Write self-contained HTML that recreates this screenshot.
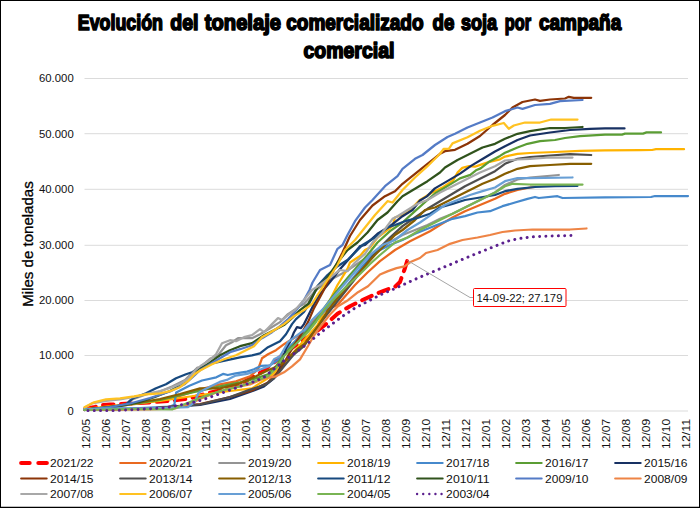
<!DOCTYPE html>
<html lang="es"><head><meta charset="utf-8">
<title>Evolución del tonelaje comercializado de soja por campaña comercial</title>
<style>
html,body{margin:0;padding:0;background:#fff;}
body{width:700px;height:508px;overflow:hidden;}
#chart{display:block;position:absolute;left:0;top:0;}
text{font-family:"Liberation Sans", Arial, Helvetica, sans-serif;}
</style></head><body>
<svg id="chart" width="700" height="508" viewBox="0 0 700 508">
<rect x="0" y="0" width="700" height="508" fill="#ffffff"/>
<g stroke="#DBDBDB" stroke-width="1">
<line x1="84.5" y1="411.00" x2="688" y2="411.00"/>
<line x1="84.5" y1="355.50" x2="688" y2="355.50"/>
<line x1="84.5" y1="300.50" x2="688" y2="300.50"/>
<line x1="84.5" y1="245.30" x2="688" y2="245.30"/>
<line x1="84.5" y1="189.30" x2="688" y2="189.30"/>
<line x1="84.5" y1="133.70" x2="688" y2="133.70"/>
<line x1="84.5" y1="78.50" x2="688" y2="78.50"/>
</g>
<g id="title">
<text y="29.6" font-size="22.4" font-weight="bold" fill="#000" stroke="#000" stroke-width="1.7" stroke-linejoin="round" xml:space="default">
<tspan x="77.80" textLength="85.20" lengthAdjust="spacingAndGlyphs">Evolución</tspan> <tspan x="170.20" textLength="28.25" lengthAdjust="spacingAndGlyphs">del</tspan> <tspan x="204.80" textLength="76.23" lengthAdjust="spacingAndGlyphs">tonelaje</tspan> <tspan x="286.20" textLength="137.42" lengthAdjust="spacingAndGlyphs">comercializado</tspan> <tspan x="432.60" textLength="21.83" lengthAdjust="spacingAndGlyphs">de</tspan> <tspan x="461.00" textLength="36.07" lengthAdjust="spacingAndGlyphs">soja</tspan> <tspan x="504.80" textLength="26.28" lengthAdjust="spacingAndGlyphs">por</tspan> <tspan x="539.00" textLength="82.23" lengthAdjust="spacingAndGlyphs">campaña</tspan>
</text>
<text y="57.6" font-size="22.4" font-weight="bold" fill="#000" stroke="#000" stroke-width="1.7" stroke-linejoin="round" xml:space="default">
<tspan x="303.40" textLength="91.01" lengthAdjust="spacingAndGlyphs">comercial</tspan>
</text>
</g>
<g font-size="11.2" fill="#111" text-anchor="end">
<text x="73.7" y="414.80">0</text>
<text x="73.7" y="359.30" textLength="34.7" lengthAdjust="spacingAndGlyphs">10.000</text>
<text x="73.7" y="304.30" textLength="34.7" lengthAdjust="spacingAndGlyphs">20.000</text>
<text x="73.7" y="249.10" textLength="34.7" lengthAdjust="spacingAndGlyphs">30.000</text>
<text x="73.7" y="193.10" textLength="34.7" lengthAdjust="spacingAndGlyphs">40.000</text>
<text x="73.7" y="137.50" textLength="34.7" lengthAdjust="spacingAndGlyphs">50.000</text>
<text x="73.7" y="82.30" textLength="34.7" lengthAdjust="spacingAndGlyphs">60.000</text>
</g>
<text transform="translate(32.9,244) rotate(-90)" text-anchor="middle" font-size="14" fill="#000" stroke="#000" stroke-width="0.3" textLength="125.5" lengthAdjust="spacingAndGlyphs">Miles de toneladas</text>
<g font-size="11.2" fill="#111" text-anchor="end">
<text transform="translate(89.50,418.8) rotate(-90)" textLength="30.2" lengthAdjust="spacingAndGlyphs">12/05</text>
<text transform="translate(109.53,418.8) rotate(-90)" textLength="30.2" lengthAdjust="spacingAndGlyphs">12/06</text>
<text transform="translate(129.56,418.8) rotate(-90)" textLength="30.2" lengthAdjust="spacingAndGlyphs">12/07</text>
<text transform="translate(149.59,418.8) rotate(-90)" textLength="30.2" lengthAdjust="spacingAndGlyphs">12/08</text>
<text transform="translate(169.62,418.8) rotate(-90)" textLength="30.2" lengthAdjust="spacingAndGlyphs">12/09</text>
<text transform="translate(189.65,418.8) rotate(-90)" textLength="30.2" lengthAdjust="spacingAndGlyphs">12/10</text>
<text transform="translate(209.68,418.8) rotate(-90)" textLength="30.2" lengthAdjust="spacingAndGlyphs">12/11</text>
<text transform="translate(229.71,418.8) rotate(-90)" textLength="30.2" lengthAdjust="spacingAndGlyphs">12/12</text>
<text transform="translate(249.74,418.8) rotate(-90)" textLength="30.2" lengthAdjust="spacingAndGlyphs">12/01</text>
<text transform="translate(269.77,418.8) rotate(-90)" textLength="30.2" lengthAdjust="spacingAndGlyphs">12/02</text>
<text transform="translate(289.80,418.8) rotate(-90)" textLength="30.2" lengthAdjust="spacingAndGlyphs">12/03</text>
<text transform="translate(309.83,418.8) rotate(-90)" textLength="30.2" lengthAdjust="spacingAndGlyphs">12/04</text>
<text transform="translate(329.86,418.8) rotate(-90)" textLength="30.2" lengthAdjust="spacingAndGlyphs">12/05</text>
<text transform="translate(349.89,418.8) rotate(-90)" textLength="30.2" lengthAdjust="spacingAndGlyphs">12/06</text>
<text transform="translate(369.92,418.8) rotate(-90)" textLength="30.2" lengthAdjust="spacingAndGlyphs">12/07</text>
<text transform="translate(389.95,418.8) rotate(-90)" textLength="30.2" lengthAdjust="spacingAndGlyphs">12/08</text>
<text transform="translate(409.98,418.8) rotate(-90)" textLength="30.2" lengthAdjust="spacingAndGlyphs">12/09</text>
<text transform="translate(430.01,418.8) rotate(-90)" textLength="30.2" lengthAdjust="spacingAndGlyphs">12/10</text>
<text transform="translate(450.04,418.8) rotate(-90)" textLength="30.2" lengthAdjust="spacingAndGlyphs">12/11</text>
<text transform="translate(470.07,418.8) rotate(-90)" textLength="30.2" lengthAdjust="spacingAndGlyphs">12/12</text>
<text transform="translate(490.10,418.8) rotate(-90)" textLength="30.2" lengthAdjust="spacingAndGlyphs">12/01</text>
<text transform="translate(510.13,418.8) rotate(-90)" textLength="30.2" lengthAdjust="spacingAndGlyphs">12/02</text>
<text transform="translate(530.16,418.8) rotate(-90)" textLength="30.2" lengthAdjust="spacingAndGlyphs">12/03</text>
<text transform="translate(550.19,418.8) rotate(-90)" textLength="30.2" lengthAdjust="spacingAndGlyphs">12/04</text>
<text transform="translate(570.22,418.8) rotate(-90)" textLength="30.2" lengthAdjust="spacingAndGlyphs">12/05</text>
<text transform="translate(590.25,418.8) rotate(-90)" textLength="30.2" lengthAdjust="spacingAndGlyphs">12/06</text>
<text transform="translate(610.28,418.8) rotate(-90)" textLength="30.2" lengthAdjust="spacingAndGlyphs">12/07</text>
<text transform="translate(630.31,418.8) rotate(-90)" textLength="30.2" lengthAdjust="spacingAndGlyphs">12/08</text>
<text transform="translate(650.34,418.8) rotate(-90)" textLength="30.2" lengthAdjust="spacingAndGlyphs">12/09</text>
<text transform="translate(670.37,418.8) rotate(-90)" textLength="30.2" lengthAdjust="spacingAndGlyphs">12/10</text>
<text transform="translate(690.40,418.8) rotate(-90)" textLength="30.2" lengthAdjust="spacingAndGlyphs">12/11</text>
</g>
<g fill="none" stroke-linejoin="round" stroke-linecap="round">
<polyline points="85.5,408.6 95.0,407.0 100.0,405.2 110.0,404.6 130.0,403.6 150.0,402.4 170.0,400.8 185.0,399.0 190.0,398.4 205.0,394.0 217.4,391.0 235.7,385.9 248.3,379.6 261.0,372.5 274.0,362.3 286.0,352.2 300.0,342.2 314.0,333.2 326.0,324.1 337.5,313.8 350.0,306.2 362.5,300.0 375.0,294.3 385.0,290.3 395.0,286.8 400.0,282.0 405.0,268.0 407.5,260.0" stroke="#FF0000" stroke-width="4" stroke-dasharray="10.5 7.5"/>
<polyline points="84.4,409.5 100.0,408.0 120.0,406.0 140.0,403.5 160.0,400.5 180.0,396.0 200.0,389.4 220.0,384.4 236.0,381.4 250.0,376.3 258.0,369.3 262.0,358.3 268.0,354.3 276.0,350.2 284.0,344.2 292.0,339.2 300.0,334.2 308.0,326.1 316.0,318.1 324.0,311.1 337.5,305.0 355.0,285.0 367.5,272.5 380.0,261.2 395.0,250.0 410.0,241.2 430.0,231.2 440.0,225.0 452.5,217.5 465.0,211.2 480.0,205.0 495.0,198.8 505.0,193.8 517.5,190.0 530.0,187.5 535.0,187.0" stroke="#E96920" stroke-width="2.25"/>
<polyline points="84.4,409.5 100.0,408.5 126.0,405.3 130.0,400.3 146.0,394.5 160.0,391.5 172.5,386.2 185.0,380.0 197.5,367.5 200.0,367.3 210.0,358.8 218.0,355.3 226.0,345.2 232.0,342.2 238.0,338.2 252.0,338.2 260.0,334.2 270.0,328.2 280.0,322.1 288.0,314.1 300.0,306.1 304.0,304.0 316.0,290.0 330.0,280.0 345.0,272.0 360.0,262.0 375.0,252.0 390.0,242.0 402.5,235.0 415.0,230.0 427.5,225.0 440.0,218.8 452.5,213.8 465.0,207.5 480.0,200.0 495.0,192.5 505.0,185.0 517.5,179.5 530.0,177.5 558.8,175.0" stroke="#949494" stroke-width="2.25"/>
<polyline points="84.4,409.0 120.0,405.0 160.0,401.0 200.0,395.0 230.0,391.0 252.0,388.4 258.0,384.4 270.0,377.0 285.0,362.0 300.0,345.0 317.5,325.0 327.5,305.0 337.5,285.0 347.5,268.8 350.0,262.5 360.0,256.0 365.0,250.0 370.0,247.5 377.5,237.5 392.5,226.2 395.0,217.5 407.5,212.5 420.0,199.9 431.4,193.0 442.9,187.3 453.1,180.4 457.7,172.4 462.3,167.9 469.1,166.1 474.9,166.7 481.7,164.4 488.6,162.1 500.0,159.3 505.0,156.6 517.5,153.8 530.0,153.0 555.0,152.0 580.0,150.8 605.0,150.4 640.0,150.1 652.0,150.0 656.0,149.2 684.0,149.2" stroke="#FFB300" stroke-width="2.25"/>
<polyline points="84.4,409.5 100.0,408.4 140.0,408.0 170.0,406.5 174.3,404.9 176.2,392.5 189.4,385.7 202.0,380.5 216.3,377.3 223.0,373.9 227.7,375.0 235.7,373.3 247.0,371.6 254.0,369.3 260.9,365.9 270.0,365.3 282.0,357.3 288.0,348.2 296.0,340.2 304.0,333.2 312.0,324.1 320.0,316.1 332.0,302.0 340.0,294.0 350.0,282.0 362.0,267.0 375.0,252.5 390.0,245.0 402.5,240.0 415.0,233.8 427.5,228.8 440.0,223.8 452.5,218.8 465.0,216.2 477.5,212.5 490.0,211.2 502.5,206.2 515.0,202.5 527.5,198.8 535.0,197.0 538.8,198.0 557.5,196.2 562.5,198.0 605.0,197.3 651.0,197.0 655.0,196.0 688.0,196.0" stroke="#4689CC" stroke-width="2.25"/>
<polyline points="84.4,409.5 100.0,408.0 130.0,404.5 160.0,400.0 190.0,393.0 220.0,386.4 240.0,382.4 256.0,378.4 268.0,374.3 276.0,366.3 284.0,354.3 292.0,346.2 300.0,338.2 308.0,330.2 316.0,320.1 324.0,308.1 330.0,300.0 336.0,292.0 350.0,275.0 367.5,255.0 377.5,242.5 390.0,231.2 402.5,222.5 415.0,211.2 426.9,200.5 434.9,193.5 448.6,185.4 460.0,178.4 470.3,174.9 476.0,170.3 480.6,168.4 488.6,162.1 500.0,155.9 505.0,152.8 517.5,147.5 527.5,143.8 540.0,141.2 555.0,140.0 565.0,138.0 580.0,136.2 605.0,134.6 622.0,134.6 625.0,133.6 643.0,133.6 646.5,132.4 661.0,132.4" stroke="#5B9D34" stroke-width="2.25"/>
<polyline points="84.4,410.0 150.0,408.5 200.0,405.0 230.0,399.0 254.0,390.4 264.0,386.4 274.0,378.4 280.0,368.3 286.0,348.2 290.0,342.2 294.0,332.2 297.0,327.1 301.0,328.2 304.0,324.1 309.0,314.1 314.0,304.0 320.0,294.0 330.0,282.0 341.0,268.0 352.5,255.0 360.0,246.2 365.0,245.0 377.5,233.8 390.0,226.2 402.5,216.2 412.5,210.0 420.0,200.5 426.9,196.4 434.9,188.4 448.6,180.4 460.0,173.6 471.4,165.6 482.9,158.7 495.0,151.5 505.0,146.2 517.5,140.0 530.0,135.5 550.0,132.5 570.0,130.0 590.0,128.8 605.0,128.4 624.5,128.4" stroke="#183163" stroke-width="2.25"/>
<polyline points="84.4,410.0 150.0,408.5 200.0,404.0 230.0,397.0 252.0,390.4 268.0,382.4 280.0,370.3 290.0,352.2 300.0,336.2 308.0,322.1 314.0,308.1 322.5,292.5 332.5,272.5 342.5,252.5 350.0,236.0 360.0,220.0 372.5,205.5 385.0,196.2 395.0,191.2 402.5,183.8 415.0,173.8 427.5,163.8 440.0,153.8 445.0,151.2 455.0,149.8 467.5,143.8 480.0,136.0 492.5,125.0 505.0,115.0 512.5,107.5 522.5,102.0 535.0,99.5 540.0,100.8 550.0,99.5 565.0,98.5 568.8,96.8 573.8,97.8 591.2,97.8" stroke="#8C3407" stroke-width="2.25"/>
<polyline points="84.4,410.0 150.0,408.5 200.0,404.5 230.0,397.0 248.0,390.4 266.0,384.4 276.0,376.3 284.0,366.3 294.0,354.3 304.0,346.2 312.0,334.2 325.0,317.0 340.0,298.0 355.0,279.0 365.0,266.0 377.5,250.0 390.0,237.5 402.5,226.2 415.0,217.5 427.5,208.8 440.0,201.2 452.5,193.8 465.0,186.2 480.0,178.8 495.0,171.2 505.0,163.8 517.5,158.8 530.0,157.0 550.0,155.5 570.0,154.2 591.2,155.0" stroke="#4E4E4E" stroke-width="2.25"/>
<polyline points="84.4,409.5 100.0,408.0 130.0,404.0 160.0,399.0 180.0,394.0 200.0,388.4 220.0,388.4 240.0,383.4 256.0,376.3 268.0,370.3 280.0,365.3 288.0,358.3 296.0,350.2 304.0,344.2 312.0,335.2 320.0,323.1 328.0,310.1 336.0,300.0 350.0,283.0 365.0,266.0 375.0,255.0 385.0,245.0 395.0,235.0 402.5,230.0 415.0,220.0 425.0,210.0 435.0,207.5 445.0,202.5 457.5,196.2 470.0,190.0 482.5,183.8 495.0,178.8 505.0,173.8 517.5,168.8 530.0,166.2 550.0,165.0 570.0,163.8 591.2,163.8" stroke="#875E00" stroke-width="2.25"/>
<polyline points="84.4,409.5 110.0,407.5 126.0,404.3 133.0,398.3 146.0,393.3 156.0,388.2 166.0,384.2 176.0,378.2 186.0,374.2 192.0,372.2 200.5,368.1 212.0,363.3 226.0,360.3 240.0,357.3 252.0,355.3 260.0,353.3 268.0,347.2 280.0,341.2 286.0,334.2 292.0,324.1 296.0,319.1 304.0,312.0 308.0,306.0 312.0,298.0 317.5,286.0 327.5,275.0 337.5,266.2 347.5,260.0 357.5,250.0 362.5,245.0 375.0,237.5 387.5,227.5 395.0,225.0 405.0,221.2 417.5,218.0 430.0,213.8 440.0,207.5 452.5,203.8 465.0,200.0 480.0,197.5 495.0,195.0 505.0,191.2 517.5,188.8 535.0,187.0 555.0,186.2 577.5,185.8" stroke="#17497E" stroke-width="2.25"/>
<polyline points="84.4,409.5 120.0,406.0 140.0,402.0 155.0,397.0 170.0,391.0 185.0,383.0 195.0,374.0 200.0,369.3 220.0,355.3 230.0,350.2 240.0,346.2 252.0,343.2 264.0,335.2 276.0,329.2 284.0,325.1 292.0,318.1 300.0,310.1 308.0,304.0 317.5,287.5 327.5,277.5 337.5,262.5 347.5,250.0 357.5,242.5 367.5,232.5 377.5,220.0 387.5,212.5 397.5,201.2 402.5,196.2 415.0,188.8 427.5,181.2 440.0,172.5 445.0,167.5 457.5,160.0 470.0,153.8 482.5,147.5 495.0,143.8 505.0,138.8 517.5,133.8 530.0,131.2 550.0,128.0 565.0,128.0 582.5,127.0" stroke="#30531C" stroke-width="2.25"/>
<polyline points="84.4,409.5 110.0,407.0 130.0,403.5 150.0,398.0 170.0,391.5 185.0,384.0 195.0,375.0 200.0,370.3 220.0,358.3 230.0,352.2 240.0,349.2 252.0,345.2 262.0,338.2 272.0,332.2 280.0,326.1 288.0,319.1 294.0,313.1 300.0,305.1 304.0,300.0 309.5,290.0 312.5,282.5 320.0,270.0 330.0,265.0 337.5,248.8 342.5,245.0 347.5,235.0 355.0,221.2 365.0,207.5 372.5,200.0 385.0,186.2 397.5,176.2 402.5,168.8 415.0,158.8 422.5,155.0 435.0,145.0 447.5,137.0 455.0,133.8 467.5,127.5 480.0,122.5 492.5,117.5 505.0,111.2 517.5,107.5 522.5,108.8 535.0,105.0 550.0,103.8 560.0,101.2 582.5,100.0" stroke="#547BC6" stroke-width="2.25"/>
<polyline points="84.4,410.0 150.0,409.5 175.0,408.5 190.0,404.0 200.0,399.0 215.0,393.0 230.0,388.4 250.0,384.4 264.0,378.4 276.0,376.3 284.0,372.3 292.0,366.3 300.0,359.3 308.0,346.0 314.0,335.5 320.0,327.0 330.0,314.5 338.0,306.3 348.0,300.2 358.0,292.2 368.0,286.2 380.0,274.5 388.0,271.1 396.5,268.1 404.5,266.4 410.5,262.0 420.0,258.0 426.0,253.0 437.5,250.0 450.0,243.8 462.5,240.0 477.5,237.5 490.0,235.0 502.5,232.0 515.0,230.5 532.5,229.5 570.0,229.5 586.5,228.5" stroke="#EE8445" stroke-width="2.25"/>
<polyline points="84.4,408.0 92.0,403.5 106.0,401.0 120.0,399.5 134.0,397.0 146.0,394.0 160.0,391.0 170.0,388.0 180.0,384.0 188.0,379.0 194.5,371.0 200.5,366.0 208.5,361.0 216.0,354.3 222.0,343.2 230.0,340.2 236.0,341.2 244.0,337.2 252.0,335.2 260.0,329.2 264.0,332.2 272.0,324.1 278.0,318.1 282.0,320.1 288.0,315.1 296.0,309.1 304.0,300.0 312.0,290.0 320.0,285.0 330.0,277.5 340.0,270.0 347.5,271.2 355.0,262.5 365.0,253.8 372.5,242.5 382.5,232.5 392.5,218.8 397.5,216.2 407.5,210.0 417.5,203.8 427.5,200.0 440.0,192.5 452.5,186.2 465.0,180.0 480.0,172.5 495.0,166.2 505.0,160.5 517.5,159.5 530.0,158.8 550.0,157.5 572.5,157.5" stroke="#A8A8A8" stroke-width="2.25"/>
<polyline points="84.4,407.3 94.0,402.3 106.0,399.3 120.0,398.3 134.0,396.3 146.0,394.3 160.0,393.3 170.0,391.2 180.0,387.2 188.0,381.2 194.5,374.2 200.5,370.2 212.0,364.3 224.0,359.3 236.0,355.3 246.0,350.2 254.0,346.2 262.0,337.2 274.0,330.2 284.0,324.1 294.0,316.1 304.0,310.1 312.0,304.0 317.5,295.0 327.5,280.0 337.5,265.0 345.0,250.0 355.0,240.0 365.0,227.5 375.0,215.0 387.5,201.2 392.5,202.5 402.5,190.0 415.0,177.5 427.5,166.2 440.0,153.8 443.8,148.8 448.8,148.8 452.5,143.4 467.5,137.3 480.0,130.8 492.5,125.8 503.8,123.0 508.8,128.8 513.8,125.5 525.0,122.5 540.0,122.5 551.2,119.5 577.5,119.5" stroke="#FFC222" stroke-width="2.25"/>
<polyline points="84.4,409.5 100.0,408.7 150.0,408.3 188.0,407.2 194.6,402.0 198.6,392.7 204.9,389.3 212.9,385.3 219.7,381.9 227.7,379.6 235.7,375.6 247.0,373.9 254.0,371.6 260.9,369.3 270.0,365.9 274.0,359.3 280.0,356.3 288.0,342.2 296.0,336.2 304.0,330.2 312.0,320.1 324.0,308.1 336.0,294.0 348.0,280.0 360.0,266.0 370.0,255.0 382.5,245.0 395.0,240.0 407.5,230.0 420.0,222.5 432.5,213.8 445.0,205.0 457.5,200.0 470.0,195.0 482.5,191.2 495.0,187.5 505.0,181.2 517.5,178.0 530.0,178.0 572.5,177.5" stroke="#689FD5" stroke-width="2.25"/>
<polyline points="84.4,410.0 130.0,409.0 172.0,409.5 180.0,406.0 200.0,398.0 220.0,391.0 240.0,386.4 268.0,376.3 276.0,368.3 284.0,356.0 292.0,348.0 300.0,340.0 308.0,332.0 316.0,322.0 324.0,310.0 332.0,301.0 345.0,288.0 360.0,274.0 370.0,264.0 380.0,255.0 395.0,242.5 407.5,237.5 420.0,230.0 432.5,223.8 445.0,217.5 457.5,211.2 470.0,205.0 482.5,198.8 495.0,192.5 505.0,186.2 512.5,183.8 530.0,184.5 582.5,184.5" stroke="#79B453" stroke-width="2.25"/>
<polyline points="88.0,410.4 118.0,410.4 140.0,409.3 165.0,407.8 180.0,405.0 192.0,402.8 204.0,399.3 222.0,393.0 240.0,386.4 252.0,382.4 264.0,377.3 276.0,367.3 286.0,359.3 296.0,352.2 308.0,343.2 320.0,333.2 332.0,324.1 342.5,316.3 355.0,308.0 367.5,301.5 380.0,295.0 395.0,288.5 410.0,281.6 425.0,275.0 440.0,268.8 455.0,262.5 470.0,256.2 482.5,251.2 495.0,246.2 507.5,241.2 517.5,238.8 530.0,237.0 545.0,236.2 573.5,235.5" stroke="#5B208E" stroke-width="3" stroke-dasharray="0.01 6.25"/>
</g>
<polyline points="407.5,260.5 470,297.5 473.5,297.5" fill="none" stroke="#A6A6A6" stroke-width="1"/>
<rect x="473.5" y="288.5" width="92.5" height="18" fill="#ffffff" stroke="#FF0000" stroke-width="1" rx="1"/>
<text x="476.6" y="302.3" font-size="11.2" fill="#111" textLength="85.8" lengthAdjust="spacingAndGlyphs">14-09-22; 27.179</text>
<g font-size="11.2" fill="#111">
<line x1="21.2" y1="463" x2="47" y2="463" stroke="#FF0000" stroke-width="4.2" stroke-linecap="round" stroke-dasharray="8.4 8.8"/>
<text x="50.1" y="467.30" textLength="43.4" lengthAdjust="spacingAndGlyphs">2021/22</text>
<line x1="120.1" y1="463" x2="145.7" y2="463" stroke="#E96920" stroke-width="2" stroke-linecap="round"/>
<text x="149.1" y="467.30" textLength="43.4" lengthAdjust="spacingAndGlyphs">2020/21</text>
<line x1="219.1" y1="463" x2="244.7" y2="463" stroke="#949494" stroke-width="2" stroke-linecap="round"/>
<text x="248.1" y="467.30" textLength="43.4" lengthAdjust="spacingAndGlyphs">2019/20</text>
<line x1="318.1" y1="463" x2="343.7" y2="463" stroke="#FFB300" stroke-width="2" stroke-linecap="round"/>
<text x="347.1" y="467.30" textLength="43.4" lengthAdjust="spacingAndGlyphs">2018/19</text>
<line x1="417.1" y1="463" x2="442.7" y2="463" stroke="#4689CC" stroke-width="2" stroke-linecap="round"/>
<text x="446.1" y="467.30" textLength="43.4" lengthAdjust="spacingAndGlyphs">2017/18</text>
<line x1="516.1" y1="463" x2="541.7" y2="463" stroke="#5B9D34" stroke-width="2" stroke-linecap="round"/>
<text x="545.1" y="467.30" textLength="43.4" lengthAdjust="spacingAndGlyphs">2016/17</text>
<line x1="615.1" y1="463" x2="640.7" y2="463" stroke="#183163" stroke-width="2" stroke-linecap="round"/>
<text x="644.1" y="467.30" textLength="43.4" lengthAdjust="spacingAndGlyphs">2015/16</text>
<line x1="21.1" y1="478.4" x2="46.7" y2="478.4" stroke="#8C3407" stroke-width="2" stroke-linecap="round"/>
<text x="50.1" y="482.70" textLength="43.4" lengthAdjust="spacingAndGlyphs">2014/15</text>
<line x1="120.1" y1="478.4" x2="145.7" y2="478.4" stroke="#4E4E4E" stroke-width="2" stroke-linecap="round"/>
<text x="149.1" y="482.70" textLength="43.4" lengthAdjust="spacingAndGlyphs">2013/14</text>
<line x1="219.1" y1="478.4" x2="244.7" y2="478.4" stroke="#875E00" stroke-width="2" stroke-linecap="round"/>
<text x="248.1" y="482.70" textLength="43.4" lengthAdjust="spacingAndGlyphs">2012/13</text>
<line x1="318.1" y1="478.4" x2="343.7" y2="478.4" stroke="#17497E" stroke-width="2" stroke-linecap="round"/>
<text x="347.1" y="482.70" textLength="43.4" lengthAdjust="spacingAndGlyphs">2011/12</text>
<line x1="417.1" y1="478.4" x2="442.7" y2="478.4" stroke="#30531C" stroke-width="2" stroke-linecap="round"/>
<text x="446.1" y="482.70" textLength="43.4" lengthAdjust="spacingAndGlyphs">2010/11</text>
<line x1="516.1" y1="478.4" x2="541.7" y2="478.4" stroke="#547BC6" stroke-width="2" stroke-linecap="round"/>
<text x="545.1" y="482.70" textLength="43.4" lengthAdjust="spacingAndGlyphs">2009/10</text>
<line x1="615.1" y1="478.4" x2="640.7" y2="478.4" stroke="#EE8445" stroke-width="2" stroke-linecap="round"/>
<text x="644.1" y="482.70" textLength="43.4" lengthAdjust="spacingAndGlyphs">2008/09</text>
<line x1="21.1" y1="494" x2="46.7" y2="494" stroke="#A8A8A8" stroke-width="2" stroke-linecap="round"/>
<text x="50.1" y="498.30" textLength="43.4" lengthAdjust="spacingAndGlyphs">2007/08</text>
<line x1="120.1" y1="494" x2="145.7" y2="494" stroke="#FFC222" stroke-width="2" stroke-linecap="round"/>
<text x="149.1" y="498.30" textLength="43.4" lengthAdjust="spacingAndGlyphs">2006/07</text>
<line x1="219.1" y1="494" x2="244.7" y2="494" stroke="#689FD5" stroke-width="2" stroke-linecap="round"/>
<text x="248.1" y="498.30" textLength="43.4" lengthAdjust="spacingAndGlyphs">2005/06</text>
<line x1="318.1" y1="494" x2="343.7" y2="494" stroke="#79B453" stroke-width="2" stroke-linecap="round"/>
<text x="347.1" y="498.30" textLength="43.4" lengthAdjust="spacingAndGlyphs">2004/05</text>
<line x1="417.1" y1="494" x2="442" y2="494" stroke="#5B208E" stroke-width="2.4" stroke-linecap="round" stroke-dasharray="0.01 6.1"/>
<text x="446.1" y="498.30" textLength="43.4" lengthAdjust="spacingAndGlyphs">2003/04</text>
</g>
<rect x="0.5" y="0.5" width="699" height="507" fill="none" stroke="#000" stroke-width="1" shape-rendering="crispEdges"/>
<line x1="0" y1="506.5" x2="700" y2="506.5" stroke="#000" stroke-opacity="0.25" stroke-width="1" shape-rendering="crispEdges"/>
</svg></body></html>
